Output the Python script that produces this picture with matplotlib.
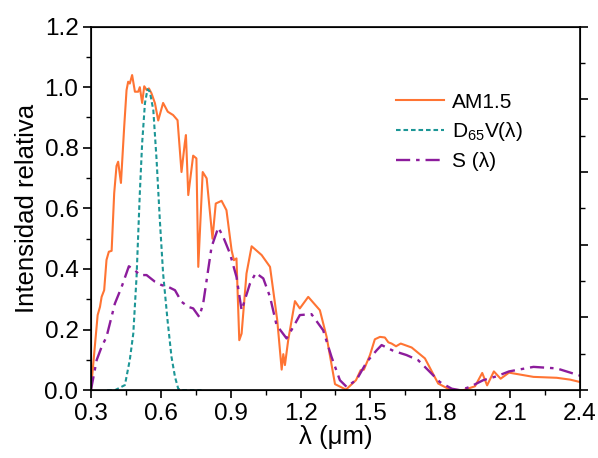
import numpy as np
import matplotlib.pyplot as plt
from matplotlib.ticker import MultipleLocator, NullFormatter

plt.rcParams['font.family'] = ['Liberation Sans', 'DejaVu Sans']
plt.rcParams['mathtext.fontset'] = 'custom'
plt.rcParams['mathtext.rm'] = 'Liberation Sans'
plt.rcParams['mathtext.default'] = 'regular'

# AM1.5 solar spectrum (normalised)
am_wl = [0.300, 0.329, 0.339, 0.346, 0.357, 0.367, 0.377, 0.389, 0.400, 0.410,
         0.417, 0.429, 0.443, 0.453, 0.460, 0.467, 0.477, 0.489, 0.503, 0.510,
         0.520, 0.529, 0.540, 0.549, 0.560, 0.575, 0.589, 0.610, 0.630, 0.653,
         0.672, 0.689, 0.703, 0.708, 0.718, 0.739, 0.753, 0.761, 0.780, 0.797,
         0.822, 0.836, 0.861, 0.882, 0.904, 0.914, 0.925, 0.937, 0.947, 0.968,
         0.990, 1.033, 1.069, 1.100, 1.119, 1.126, 1.133, 1.147, 1.176, 1.197,
         1.233, 1.283, 1.312, 1.348, 1.395, 1.438, 1.458, 1.472, 1.498, 1.519,
         1.541, 1.562, 1.577, 1.591, 1.610, 1.630, 1.677, 1.734, 1.791, 1.841,
         1.898, 1.949, 1.980, 2.001, 2.030, 2.059, 2.095, 2.200, 2.300, 2.357,
         2.400]
am_val = [0.000, 0.248, 0.275, 0.308, 0.330, 0.430, 0.457, 0.460, 0.650, 0.740,
          0.754, 0.684, 0.870, 0.990, 1.018, 1.012, 1.040, 0.985, 0.985, 1.000,
          0.948, 1.003, 0.990, 0.996, 0.980, 0.947, 0.890, 0.948, 0.919, 0.908,
          0.891, 0.720, 0.815, 0.842, 0.644, 0.774, 0.765, 0.407, 0.720, 0.699,
          0.500, 0.616, 0.625, 0.594, 0.462, 0.429, 0.435, 0.165, 0.187, 0.385,
          0.475, 0.446, 0.407, 0.231, 0.068, 0.119, 0.083, 0.165, 0.294, 0.270,
          0.308, 0.264, 0.176, 0.020, 0.002, 0.033, 0.066, 0.068, 0.116, 0.168,
          0.176, 0.174, 0.158, 0.154, 0.145, 0.154, 0.141, 0.105, 0.022, 0.002,
          0.000, 0.013, 0.057, 0.016, 0.062, 0.038, 0.058, 0.044, 0.041, 0.035,
          0.027]

# D65 * V(lambda)
d65_wl = [0.370, 0.403, 0.446, 0.467, 0.482, 0.496, 0.510, 0.520, 0.532, 0.543,
          0.553, 0.568, 0.582, 0.596, 0.610, 0.629, 0.646, 0.661, 0.675, 0.690,
          0.775]
d65_val = [0.000, 0.000, 0.017, 0.100, 0.187, 0.374, 0.650, 0.815, 0.947, 0.993,
           0.985, 0.924, 0.760, 0.561, 0.385, 0.231, 0.110, 0.044, 0.005, 0.000,
           0.000]

# S(lambda)
s_wl = [0.300, 0.325, 0.346, 0.367, 0.403, 0.432, 0.463, 0.489, 0.510, 0.539,
        0.575, 0.603, 0.632, 0.661, 0.689, 0.718, 0.739, 0.765, 0.782, 0.818,
        0.847, 0.868, 0.897, 0.925, 0.947, 0.983, 1.008, 1.040, 1.069, 1.097,
        1.140, 1.169, 1.197, 1.247, 1.297, 1.333, 1.369, 1.398, 1.441, 1.484,
        1.527, 1.548, 1.598, 1.655, 1.705, 1.748, 1.798, 1.849, 1.884, 1.927,
        1.984, 2.042, 2.095, 2.200, 2.300, 2.400]
s_val = [0.000, 0.100, 0.143, 0.176, 0.286, 0.341, 0.409, 0.396, 0.380, 0.380,
         0.358, 0.347, 0.341, 0.330, 0.292, 0.275, 0.270, 0.242, 0.286, 0.473,
         0.537, 0.506, 0.451, 0.374, 0.264, 0.352, 0.387, 0.369, 0.308, 0.215,
         0.171, 0.209, 0.248, 0.251, 0.198, 0.110, 0.033, 0.011, 0.035, 0.093,
         0.132, 0.149, 0.130, 0.116, 0.099, 0.066, 0.027, 0.005, 0.000, 0.011,
         0.033, 0.046, 0.062, 0.077, 0.072, 0.048]

fig = plt.figure(figsize=(5.98, 4.58), dpi=100)
ax = fig.add_axes([0.152, 0.148, 0.818, 0.794])

ax.plot(am_wl, am_val, color='#FF7433', lw=1.5, label='AM1.5')
ax.plot(d65_wl, d65_val, color='#1C9696', lw=1.5, ls=(0, (2.2, 1.4)),
        label='D$_{65}$V(λ)')
ax.plot(s_wl, s_val, color='#8C1C9C', lw=1.7, ls=(0, (6, 2.5, 1.5, 2.5)),
        label='S (λ)')

ax.set_xlim(0.3, 2.4)
ax.set_ylim(0, 1.2)
ax.xaxis.set_major_locator(MultipleLocator(0.3))
ax.xaxis.set_minor_locator(MultipleLocator(0.15))
ax.yaxis.set_major_locator(MultipleLocator(0.2))
ax.yaxis.set_minor_locator(MultipleLocator(0.1))
ax.xaxis.set_major_formatter(plt.FuncFormatter(lambda v, p: f'{v:.1f}'))
ax.yaxis.set_major_formatter(plt.FuncFormatter(lambda v, p: f'{v:.1f}'))
ax.tick_params(which='major', direction='out', length=6, width=1.2,
               labelsize=17.5, top=False, right=False, pad=3)
ax.tick_params(which='minor', direction='out', length=3.5, width=1.0,
               top=False, right=False)
for s in ax.spines.values():
    s.set_linewidth(1.2)

# secondary right-hand scale, ticks only
ax2 = ax.twinx()
ax2.set_ylim(0, 5)
ax2.yaxis.set_major_locator(MultipleLocator(1))
ax2.yaxis.set_minor_locator(MultipleLocator(0.5))
ax2.yaxis.set_major_formatter(NullFormatter())
ax2.tick_params(which='major', direction='out', length=6, width=1.2)
ax2.tick_params(which='minor', direction='out', length=3.5, width=1.0)

ax.set_xlabel('λ (μm)', fontsize=18.5, labelpad=0)
ax.set_ylabel('Intensidad relativa', fontsize=18.5, labelpad=4)

ax.legend(loc='upper left', bbox_to_anchor=(0.585, 0.87), frameon=False,
          fontsize=15, handlelength=2.3, handletextpad=0.4,
          labelspacing=0.42)

fig.savefig('out.png', dpi=100)
